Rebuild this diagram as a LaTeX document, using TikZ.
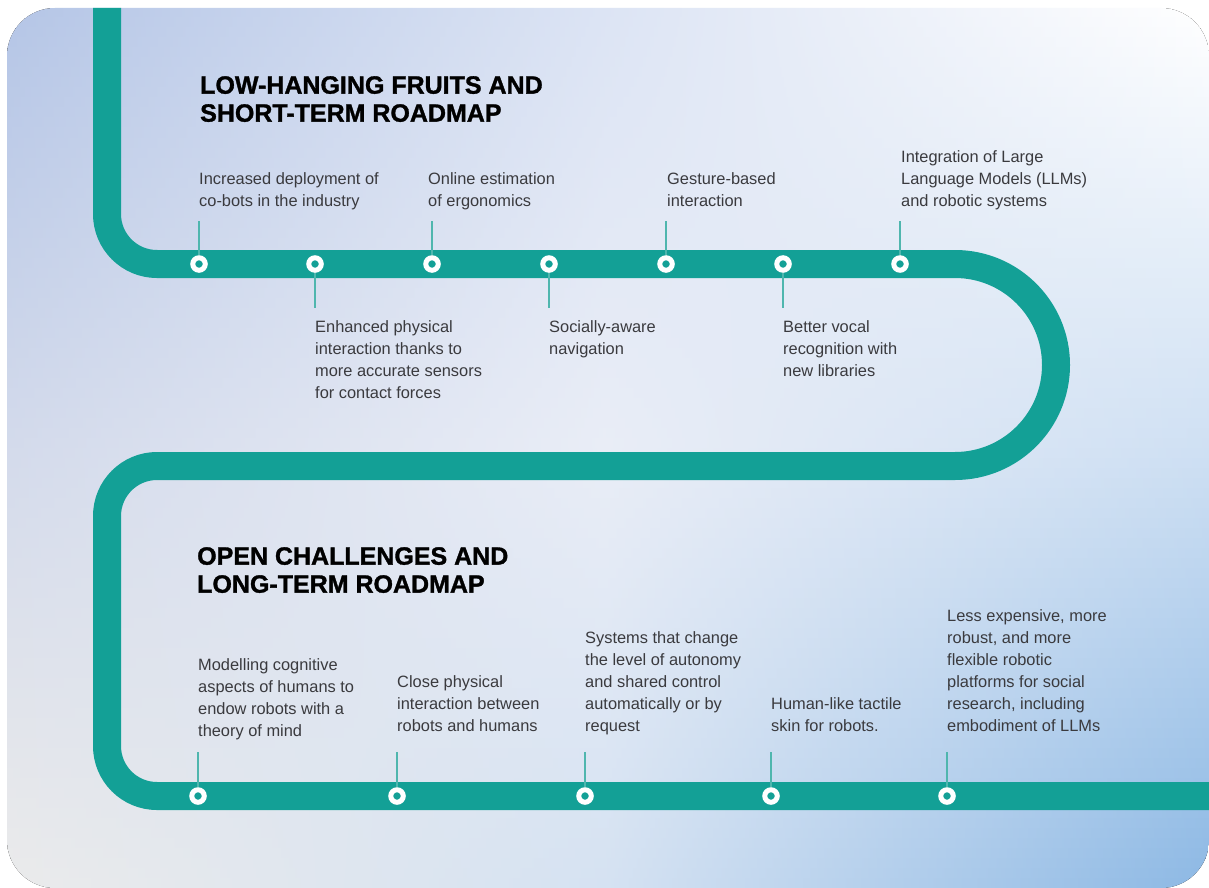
\documentclass[tikz,border=0pt]{standalone}
\usepackage{fontspec}
\setmainfont{Liberation Sans}
\newfontfamily\heavyfont{Liberation Sans}[BoldFeatures={FakeBold=1.3}]
\definecolor{roadteal}{HTML}{13A096}
\definecolor{stemteal}{HTML}{4FB6AE}
\definecolor{inktext}{HTML}{3A3A3E}
% card colours: top, middle and bottom rows, left / centre / right
\definecolor{bgTL}{HTML}{B4C5E6}
\definecolor{bgTC}{HTML}{DCE4F4}
\definecolor{bgTR}{HTML}{FFFFFF}
\definecolor{bgML}{HTML}{D3DAEB}
\definecolor{bgMC}{HTML}{E9EDF6}
\definecolor{bgMR}{HTML}{CFE0F3}
\definecolor{bgBL}{HTML}{EBEBEB}
\definecolor{bgBC}{HTML}{D5E2F2}
\definecolor{bgBR}{HTML}{8CB8E4}

\begin{document}
\begin{tikzpicture}[x=1pt,y=-1pt,
  road/.style={draw=roadteal,line width=28pt},
  stop node/.style={circle,draw=white,fill=roadteal,line width=5pt,minimum size=12.5pt,inner sep=0pt},
  stem/.style={draw=stemteal,line width=1.4pt},
  title node/.style={anchor=north west,inner sep=0pt,align=left,text=black,
    font=\heavyfont\fontsize{25}{28}\selectfont\bfseries},
  up node/.style={anchor=south west,inner sep=0pt,align=left,text depth=0pt,text=inktext,
    font=\fontsize{16.4}{22}\selectfont},
  down node/.style={anchor=north west,inner sep=0pt,align=left,text=inktext,
    font=\fontsize{16.4}{22}\selectfont}]
  \useasboundingbox (0,0) rectangle (1209,888);
  \fill[white] (0,0) rectangle (1209,888);

  % background card, built from thin shaded strips
  \begin{scope}
    \clip[rounded corners=48pt] (7,8) rectangle (1209,888);
    \foreach \k in {0,...,87} {
      \pgfmathsetmacro\ya{8+10*\k}
      \pgfmathsetmacro\yb{\ya+10.6}
      \pgfmathsetmacro\t{(\k+0.5)/88}
      \ifdim\t pt<0.5pt
        \pgfmathsetmacro\q{100*(1-2*\t)}
        \colorlet{stripL}{bgTL!\q!bgML}
        \colorlet{stripC}{bgTC!\q!bgMC}
        \colorlet{stripR}{bgTR!\q!bgMR}
      \else
        \pgfmathsetmacro\q{100*(2-2*\t)}
        \colorlet{stripL}{bgML!\q!bgBL}
        \colorlet{stripC}{bgMC!\q!bgBC}
        \colorlet{stripR}{bgMR!\q!bgBR}
      \fi
      \fill[left color=stripL,right color=stripR,middle color=stripC] (0,\ya) rectangle (1209,\yb);
    }

    % the road
    \draw[road] (107,0) -- (107,214) arc[start angle=180,end angle=270,radius=50pt]
      -- (955,264) arc[start angle=90,end angle=-90,radius=101pt]
      -- (157,466) arc[start angle=90,end angle=180,radius=50pt]
      -- (107,746) arc[start angle=180,end angle=270,radius=50pt] -- (1215,796);
  \end{scope}

  \node[title node] (t1) at (200,76) {LOW-HANGING FRUITS AND\\SHORT-TERM ROADMAP};
  \node[title node] (t2) at (197,547) {OPEN CHALLENGES AND\\LONG-TERM ROADMAP};

  % stops
  \foreach \x [count=\i] in {199,315,432,549,666,783,900}
    \node[stop node] (a\i) at (\x,264) {};
  \foreach \x [count=\i] in {198,397,585,771,947}
    \node[stop node] (b\i) at (\x,796) {};

  % short-term items
  \node[up node] (ta1) at (199,207) {Increased deployment of\\co-bots in the industry};
  \node[down node] (ta2) at (315,320) {Enhanced physical\\interaction thanks to\\more accurate sensors\\for contact forces};
  \node[up node] (ta3) at (428,207) {Online estimation\\of ergonomics};
  \node[down node] (ta4) at (549,320) {Socially-aware\\navigation};
  \node[up node] (ta5) at (667,207) {Gesture-based\\interaction};
  \node[down node] (ta6) at (783,320) {Better vocal\\recognition with\\new libraries};
  \node[up node] (ta7) at (901,207) {Integration of Large\\Language Models (LLMs)\\and robotic systems};

  % long-term items
  \node[up node] (tb1) at (198,737) {Modelling cognitive\\aspects of humans to\\endow robots with a\\theory of mind};
  \node[up node] (tb2) at (397,732) {Close physical\\interaction between\\robots and humans};
  \node[up node] (tb3) at (585,732) {Systems that change\\the level of autonomy\\and shared control\\automatically or by\\request};
  \node[up node] (tb4) at (771,732) {Human-like tactile\\skin for robots.};
  \node[up node] (tb5) at (947,732) {Less expensive, more\\robust, and more\\flexible robotic\\platforms for social\\research, including\\embodiment of LLMs};

  \path[stem]
    (a1.north) edge[shorten >=14pt] (a1 |- ta1.south)
    (a2.south) edge[shorten >=12pt] (a2 |- ta2.north)
    (a3.north) edge[shorten >=14pt] (a3 |- ta3.south)
    (a4.south) edge[shorten >=12pt] (a4 |- ta4.north)
    (a5.north) edge[shorten >=14pt] (a5 |- ta5.south)
    (a6.south) edge[shorten >=12pt] (a6 |- ta6.north)
    (a7.north) edge[shorten >=14pt] (a7 |- ta7.south)
    (b1.north) edge[shorten >=15pt] (b1 |- tb1.south)
    (b2.north) edge[shorten >=20pt] (b2 |- tb2.south)
    (b3.north) edge[shorten >=20pt] (b3 |- tb3.south)
    (b4.north) edge[shorten >=20pt] (b4 |- tb4.south)
    (b5.north) edge[shorten >=20pt] (b5 |- tb5.south);
\end{tikzpicture}
\end{document}
